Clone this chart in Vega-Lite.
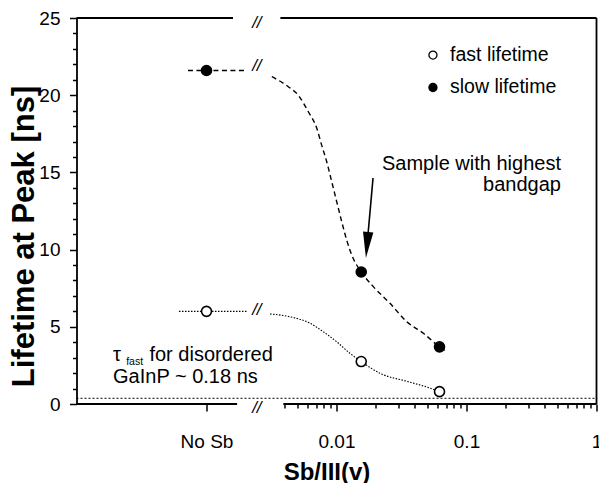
{
  "$schema": "https://vega.github.io/schema/vega-lite/v6.json",
  "width": 520,
  "height": 386,
  "autosize": {"type": "none"},
  "padding": {"left": 76.5, "top": 18, "right": 2.5, "bottom": 79},
  "background": "white",
  "config": {
    "view": {"stroke": null},
    "font": "Liberation Sans",
    "text": {"font": "Liberation Sans", "color": "black"},
    "axis": {"labelFont": "Liberation Sans", "titleFont": "Liberation Sans", "labelColor": "black", "titleColor": "black", "tickColor": "black", "domainColor": "black", "grid": false}
  },
  "datasets": {
    "points": [
      {"sb": 0.001, "lifetime": 6.0, "series": "fast"},
      {"sb": 0.0155, "lifetime": 2.75, "series": "fast"},
      {"sb": 0.062, "lifetime": 0.8, "series": "fast"},
      {"sb": 0.001, "lifetime": 21.6, "series": "slow"},
      {"sb": 0.0155, "lifetime": 8.55, "series": "slow"},
      {"sb": 0.062, "lifetime": 3.7, "series": "slow"}
    ],
    "curves": [
      {"sb": 0.00072, "lifetime": 21.6, "series": "slow", "segment": "left"},
      {"sb": 0.001, "lifetime": 21.6, "series": "slow", "segment": "left"},
      {"sb": 0.00205, "lifetime": 21.6, "series": "slow", "segment": "left"},
      {"sb": 0.00318, "lifetime": 21.2, "series": "slow", "segment": "right"},
      {"sb": 0.00426, "lifetime": 20.55, "series": "slow", "segment": "right"},
      {"sb": 0.00508, "lifetime": 20.0, "series": "slow", "segment": "right"},
      {"sb": 0.00607, "lifetime": 18.93, "series": "slow", "segment": "right"},
      {"sb": 0.00705, "lifetime": 17.86, "series": "slow", "segment": "right"},
      {"sb": 0.00769, "lifetime": 16.77, "series": "slow", "segment": "right"},
      {"sb": 0.00841, "lifetime": 15.69, "series": "slow", "segment": "right"},
      {"sb": 0.00919, "lifetime": 14.4, "series": "slow", "segment": "right"},
      {"sb": 0.01004, "lifetime": 13.1, "series": "slow", "segment": "right"},
      {"sb": 0.01097, "lifetime": 11.81, "series": "slow", "segment": "right"},
      {"sb": 0.01198, "lifetime": 10.62, "series": "slow", "segment": "right"},
      {"sb": 0.0131, "lifetime": 9.65, "series": "slow", "segment": "right"},
      {"sb": 0.0155, "lifetime": 8.55, "series": "slow", "segment": "right"},
      {"sb": 0.01919, "lifetime": 7.6, "series": "slow", "segment": "right"},
      {"sb": 0.0258, "lifetime": 6.52, "series": "slow", "segment": "right"},
      {"sb": 0.0347, "lifetime": 5.33, "series": "slow", "segment": "right"},
      {"sb": 0.0466, "lifetime": 4.58, "series": "slow", "segment": "right"},
      {"sb": 0.062, "lifetime": 3.7, "series": "slow", "segment": "right"},
      {"sb": 0.0705, "lifetime": 3.39, "series": "slow", "segment": "right"},
      {"sb": 0.000614, "lifetime": 6.0, "series": "fast", "segment": "left"},
      {"sb": 0.001, "lifetime": 6.0, "series": "fast", "segment": "left"},
      {"sb": 0.00205, "lifetime": 6.0, "series": "fast", "segment": "left"},
      {"sb": 0.00308, "lifetime": 5.83, "series": "fast", "segment": "right"},
      {"sb": 0.00439, "lifetime": 5.65, "series": "fast", "segment": "right"},
      {"sb": 0.00625, "lifetime": 5.23, "series": "fast", "segment": "right"},
      {"sb": 0.00791, "lifetime": 4.68, "series": "fast", "segment": "right"},
      {"sb": 0.01004, "lifetime": 4.03, "series": "fast", "segment": "right"},
      {"sb": 0.0127, "lifetime": 3.28, "series": "fast", "segment": "right"},
      {"sb": 0.0155, "lifetime": 2.75, "series": "fast", "segment": "right"},
      {"sb": 0.0216, "lifetime": 1.99, "series": "fast", "segment": "right"},
      {"sb": 0.0347, "lifetime": 1.47, "series": "fast", "segment": "right"},
      {"sb": 0.0494, "lifetime": 1.1, "series": "fast", "segment": "right"},
      {"sb": 0.062, "lifetime": 0.8, "series": "fast", "segment": "right"}
    ]
  },
  "encoding": {
    "x": {
      "field": "sb", "type": "quantitative",
      "scale": {"type": "log", "domain": [0.0001, 1], "nice": false},
      "axis": {
        "values": [0.001, 0.004, 0.005, 0.006, 0.007, 0.008, 0.009, 0.01, 0.02, 0.03, 0.04, 0.05, 0.06, 0.07, 0.08, 0.09, 0.1, 0.2, 0.3, 0.4, 0.5, 0.6, 0.7, 0.8, 0.9, 1],
        "labelExpr": "datum.value == 0.001 ? 'No Sb' : datum.value == 0.01 ? '0.01' : datum.value == 0.1 ? '0.1' : datum.value == 1 ? '1' : ''",
        "domain": false,
        "tickSize": {"condition": {"test": "datum.value == 0.001 || datum.value == 0.01 || datum.value == 0.1 || datum.value == 1", "value": 7}, "value": 4},
        "tickWidth": 1.5,
        "labelFontSize": 19,
        "labelBaseline": "alphabetic",
        "labelPadding": 36,
        "labelOverlap": false,
        "labelFlush": false,
        "title": "Sb/III(v)",
        "titleFontSize": 24,
        "titleFontWeight": "bold",
        "titleBaseline": "alphabetic",
        "titleX": 250,
        "titleY": 75
      }
    },
    "y": {
      "field": "lifetime", "type": "quantitative",
      "scale": {"domain": [0, 25], "nice": false, "zero": false},
      "axis": {
        "values": [0, 1, 2, 3, 4, 5, 6, 7, 8, 9, 10, 11, 12, 13, 14, 15, 16, 17, 18, 19, 20, 21, 22, 23, 24, 25],
        "labelExpr": "datum.value % 5 == 0 ? datum.label : ''",
        "tickSize": {"condition": {"test": "datum.value % 5 == 0", "value": 7}, "value": 4},
        "tickWidth": 1.5,
        "domainWidth": 1.8,
        "labelFontSize": 19,
        "labelPadding": 9.5,
        "labelOverlap": false,
        "labelFlush": false,
        "title": "Lifetime at Peak [ns]",
        "titleFontSize": 31,
        "titleFontWeight": "bold",
        "titleBaseline": "alphabetic",
        "titleX": -43,
        "titleY": 218
      }
    }
  },
  "layer": [
    {"data": {"name": "curves"}, "transform": [{"filter": "datum.series == 'slow'"}],
     "mark": {"type": "line", "interpolate": "monotone", "strokeDash": [5, 3.5], "strokeWidth": 1.4, "color": "black"},
     "encoding": {"detail": {"field": "segment"}}},
    {"data": {"name": "curves"}, "transform": [{"filter": "datum.series == 'fast'"}],
     "mark": {"type": "line", "interpolate": "monotone", "strokeDash": [1.5, 1.5], "strokeWidth": 1.1, "color": "black"},
     "encoding": {"detail": {"field": "segment"}}},
    {"data": {"values": [{"sb": 0.0001, "sb_end": 1, "lifetime": 0.37}]}, "mark": {"type": "rule", "strokeDash": [2, 2], "strokeWidth": 1, "color": "black"},
     "encoding": {"x2": {"field": "sb_end"}}},
    {"data": {"values": [
       {"sb": 0.0001, "sb_end": 0.00172, "lifetime": 0, "lifetime_end": 0},
       {"sb": 0.0039, "sb_end": 1, "lifetime": 0, "lifetime_end": 0},
       {"sb": 0.0001, "sb_end": 0.0016, "lifetime": 25, "lifetime_end": 25},
       {"sb": 0.0037, "sb_end": 1, "lifetime": 25, "lifetime_end": 25},
       {"sb": 1, "sb_end": 1, "lifetime": 0, "lifetime_end": 25}
     ]}, "mark": {"type": "rule", "strokeWidth": 1.8, "color": "black"},
     "encoding": {"x2": {"field": "sb_end"}, "y2": {"field": "lifetime_end"}}},
    {"data": {"name": "points"},
     "mark": {"type": "point", "filled": true, "stroke": "black", "strokeWidth": 1.6, "size": 100, "opacity": 1},
     "encoding": {"fill": {"field": "series", "type": "nominal", "scale": {"domain": ["fast", "slow"], "range": ["white", "black"]}, "legend": null}}},
    {"data": {"values": [
       {"sb": 0.00244, "lifetime": 24.7},
       {"sb": 0.00244, "lifetime": -0.26},
       {"sb": 0.00244, "lifetime": 21.9},
       {"sb": 0.00244, "lifetime": 6.1}
     ]}, "mark": {"type": "text", "text": "//", "fontSize": 17, "fontStyle": "italic", "align": "center", "baseline": "middle"}},
    {"data": {"values": [{"sb": 0.0552, "lifetime": 22.6, "series": "fast"}, {"sb": 0.0552, "lifetime": 20.5, "series": "slow"}]},
     "mark": {"type": "point", "filled": true, "stroke": "black", "strokeWidth": 1.3, "size": 65, "opacity": 1},
     "encoding": {"fill": {"field": "series", "type": "nominal", "legend": null}}},
    {"data": {"values": [{"sb": 0.0747, "lifetime": 22.6, "label": "fast lifetime"}, {"sb": 0.0747, "lifetime": 20.5, "label": "slow lifetime"}]},
     "mark": {"type": "text", "fontSize": 19.5, "align": "left", "baseline": "middle"},
     "encoding": {"text": {"field": "label"}}},
    {"data": {"values": [{"sb": 0.533, "lifetime": 15.16}]},
     "mark": {"type": "text", "text": ["Sample with highest", "bandgap"], "fontSize": 20, "lineHeight": 21, "align": "right", "baseline": "alphabetic"}},
    {"data": {"values": [{"sb": 0.0191, "lifetime": 14.64, "sb_end": 0.01718, "lifetime_end": 10.3}]},
     "mark": {"type": "rule", "strokeWidth": 1.6, "color": "black"},
     "encoding": {"x2": {"field": "sb_end"}, "y2": {"field": "lifetime_end"}}},
    {"data": {"values": [{"sb": 0.01718, "lifetime": 10.3}]},
     "mark": {"type": "point", "shape": "M-0.4,-1L0.4,-1L0,1Z", "filled": true, "fill": "black", "strokeWidth": 0, "size": 676, "angle": 5, "opacity": 1}},
    {"data": {"values": [
       {"sb": 0.000191, "lifetime": 2.78, "label": "τ"},
       {"sb": 0.000364, "lifetime": 2.78, "label": "for disordered"},
       {"sb": 0.000191, "lifetime": 1.36, "label": "GaInP ~ 0.18 ns"}
     ]},
     "mark": {"type": "text", "fontSize": 20, "align": "left", "baseline": "alphabetic"},
     "encoding": {"text": {"field": "label"}}},
    {"data": {"values": [{"sb": 0.000241, "lifetime": 2.5}]},
     "mark": {"type": "text", "text": "fast", "fontSize": 10.5, "align": "left", "baseline": "alphabetic"}}
  ]
}
